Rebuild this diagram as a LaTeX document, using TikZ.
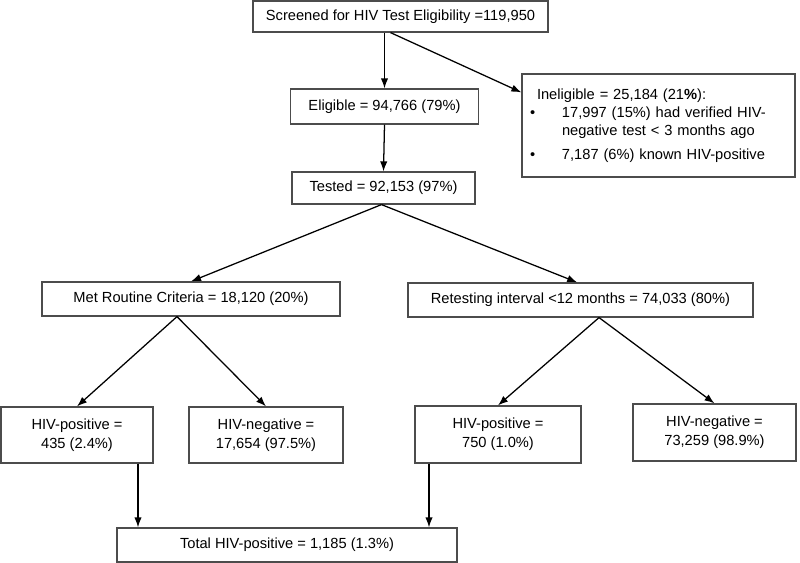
\documentclass[tikz,border=0pt]{standalone}
\usepackage{fontspec}
\setmainfont{Liberation Sans}
\usetikzlibrary{arrows.meta}

\begin{document}
\begin{tikzpicture}[x=0.75pt,y=-0.75pt,>={Latex[length=7.5pt,width=5.5pt]},
	flowbox/.style={draw=black!70,line width=0.9pt,inner sep=0pt,align=center,
		font=\fontsize{11}{14.25}\selectfont},
	boxsize/.style n args={2}{minimum width=#1*0.75pt,minimum height=#2*0.75pt},
	flow/.style={->,line width=0.95pt}]
	\useasboundingbox (0,0) rectangle (800,563);
	% Screening and eligibility
	\node[flowbox,boxsize={295}{31}] (scr) at (400.5,16.5) {Screened for HIV Test Eligibility =119,950};
	\node[flowbox,boxsize={188}{35}] (elig) at (384.5,106.5) {Eligible = 94,766 (79\%)};
	\node[flowbox,boxsize={273}{103},align=left,text width=182.25pt,
		font=\fontsize{11}{13.5}\selectfont] (inel) at (658.5,125.5)
		{Ineligible = 25,184 (21\textbf{\%}):\\
		\makebox[18.75pt][l]{\hspace*{-5.25pt}\textbullet}17,997 (15\%) had verified HIV-\\
		\hspace*{18.75pt}negative test {\char`<} 3 months ago\\[4.5pt]
		\makebox[18.75pt][l]{\hspace*{-5.25pt}\textbullet}7,187 (6\%) known HIV-positive};
	\node[flowbox,boxsize={183}{32}] (test) at (383.5,188) {Tested = 92,153 (97\%)};
	% Testing criteria
	\node[flowbox,boxsize={298}{34}] (met) at (191,299) {Met Routine Criteria = 18,120 (20\%)};
	\node[flowbox,boxsize={345}{34}] (ret) at (580.5,300) {Retesting interval {\char`<}12 months = 74,033 (80\%)};
	% Results
	\node[flowbox,boxsize={152}{56}] (pos1) at (77,435) {HIV-positive =\\435 (2.4\%)};
	\node[flowbox,boxsize={154}{56}] (neg1) at (266,435) {HIV-negative =\\17,654 (97.5\%)};
	\node[flowbox,boxsize={166}{57}] (pos2) at (498,434.5) {HIV-positive =\\750 (1.0\%)};
	\node[flowbox,boxsize={163}{57}] (neg2) at (714.5,432.5) {HIV-negative =\\73,259 (98.9\%)};
	\node[flowbox,boxsize={340}{34}] (tot) at (287,545) {Total HIV-positive = 1,185 (1.3\%)};
	% Arrows
	\draw[flow] (elig.north |- scr.south) -- (elig.north);
	\draw[flow] ([xshift=-7.5pt]scr.south) -- ([yshift=-14.25pt]inel.north west);
	\draw[flow] (elig.south) -- (test.north);
	\draw[flow] ([xshift=-1.5pt]test.south) -- (met.north);
	\draw[flow] ([xshift=-1.5pt]test.south) -- ([xshift=-2.5pt]ret.north);
	\draw[flow] ([xshift=-10.5pt]met.south) -- (pos1.north);
	\draw[flow] ([xshift=-10.5pt]met.south) -- (neg1.north);
	\draw[flow] ([xshift=13.9pt]ret.south) -- (pos2.north);
	\draw[flow] ([xshift=13.9pt]ret.south) -- (neg2.north);
	\draw[flow] ([xshift=45.75pt]pos1.south) -- ([xshift=45.75pt]pos1.south |- tot.north);
	\draw[flow] ([xshift=-51.75pt]pos2.south) -- ([xshift=-51.75pt]pos2.south |- tot.north);
\end{tikzpicture}
\end{document}
